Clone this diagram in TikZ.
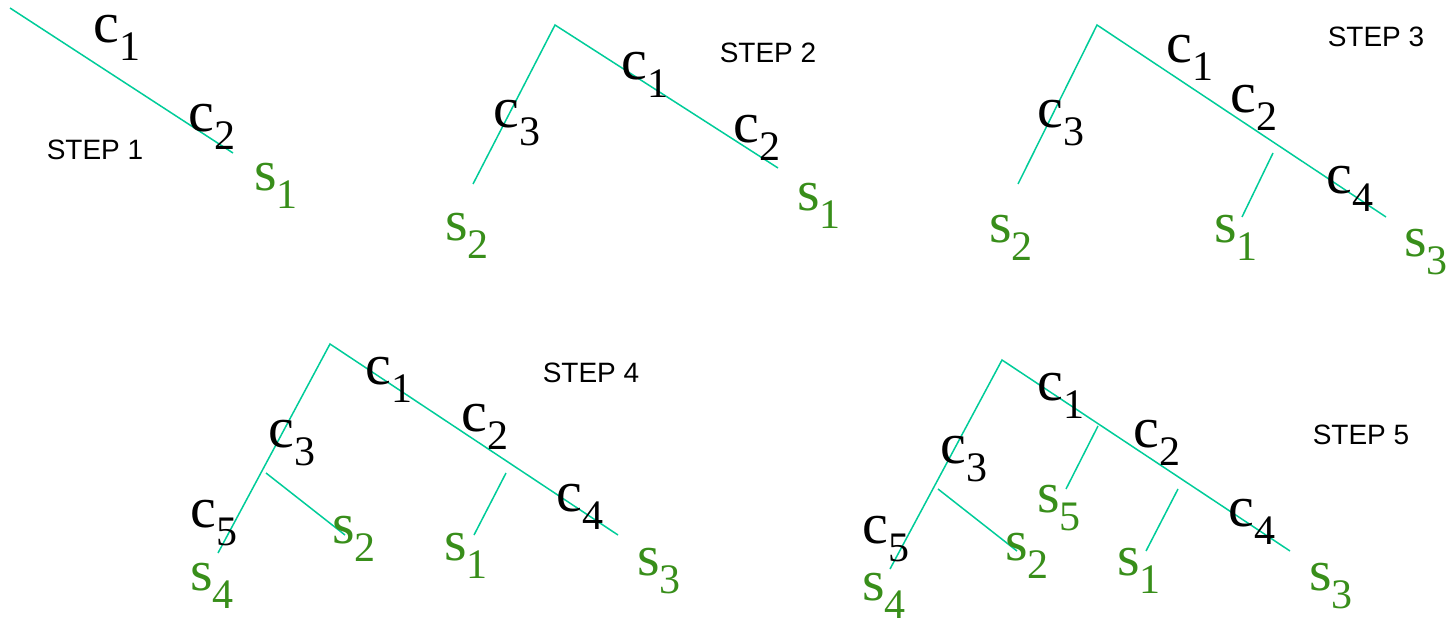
\documentclass[tikz,border=0pt]{standalone}
\usepackage{fontspec}
\setmainfont{Liberation Serif}
\newfontfamily\stepfont{Liberation Sans}
\definecolor{linecol}{RGB}{0,204,153}
\definecolor{scol}{RGB}{56,142,26}
\newcommand\lblsub[2]{#1\raisebox{-18pt}{\fontsize{42}{42}\selectfont #2}}
\begin{document}
\begin{tikzpicture}[x=1pt,y=-1pt,
  edge/.style={draw=linecol,line width=1.5pt},
  lblbase/.style={anchor=base west,inner sep=0pt,text height=28pt,text depth=19pt,font=\fontsize{58}{58}\selectfont},
  clbl/.style={lblbase,text=black},
  slbl/.style={lblbase,text=scol},
  steplbl/.style={inner sep=0pt,font=\stepfont\fontsize{28}{28}\selectfont}]
\useasboundingbox (0,0) rectangle (1450,621);
% ---------- STEP 1 ----------
\coordinate (a1) at (10,8);
\coordinate (a1e) at (233,153);
\draw[edge] (a1) -- (a1e);
\node[clbl] (s1c1) at (93.5,42.5) {\lblsub{c}{1}};
\node[clbl] (s1c2) at (188.5,131.5) {\lblsub{c}{2}};
\node[slbl] (s1s1) at (254,190) {\lblsub{s}{1}};
\node[steplbl] (st1) at (95,150) {STEP 1};
% ---------- STEP 2 ----------
\coordinate (b0) at (555,25);
\coordinate (bl) at (473,184);
\coordinate (br) at (778,168);
\draw[edge] (bl) -- (b0) -- (br);
\node[clbl] (s2c3) at (493.5,127.5) {\lblsub{c}{3}};
\node[clbl] (s2c1) at (621.5,79.5) {\lblsub{c}{1}};
\node[clbl] (s2c2) at (733.5,142.5) {\lblsub{c}{2}};
\node[slbl] (s2s2) at (445,240) {\lblsub{s}{2}};
\node[slbl] (s2s1) at (797,210) {\lblsub{s}{1}};
\node[steplbl] (st2) at (768,53) {STEP 2};
% ---------- STEP 3 ----------
\coordinate (c0) at (1097,25);
\coordinate (cl) at (1018,184);
\coordinate (cr) at (1386,217);
\coordinate (cbt) at (1273,153);
\coordinate (cbb) at (1242,217);
\draw[edge] (cl) -- (c0) -- (cr);
\draw[edge] (cbt) -- (cbb);
\node[clbl] (s3c3) at (1037.5,127.5) {\lblsub{c}{3}};
\node[clbl] (s3c1) at (1166.5,62) {\lblsub{c}{1}};
\node[clbl] (s3c2) at (1230.5,112) {\lblsub{c}{2}};
\node[clbl] (s3c4) at (1326.5,193) {\lblsub{c}{4}};
\node[slbl] (s3s2) at (989,242) {\lblsub{s}{2}};
\node[slbl] (s3s1) at (1214,242) {\lblsub{s}{1}};
\node[slbl] (s3s3) at (1404,256) {\lblsub{s}{3}};
\node[steplbl] (st3) at (1376,37) {STEP 3};
% ---------- STEP 4 ----------
\coordinate (d0) at (330,344);
\coordinate (dl) at (218,553);
\coordinate (dr) at (618,535);
\coordinate (d2t) at (266,473);
\coordinate (d2b) at (345,535);
\coordinate (d1t) at (506,473);
\coordinate (d1b) at (474,535);
\draw[edge] (dl) -- (d0) -- (dr);
\draw[edge] (d2t) -- (d2b);
\draw[edge] (d1t) -- (d1b);
\node[clbl] (s4c1) at (365.5,384) {\lblsub{c}{1}};
\node[clbl] (s4c3) at (268.5,447) {\lblsub{c}{3}};
\node[clbl] (s4c2) at (461.5,431) {\lblsub{c}{2}};
\node[clbl] (s4c4) at (556.5,511) {\lblsub{c}{4}};
\node[clbl] (s4c5) at (190.5,527) {\lblsub{c}{5}};
\node[slbl] (s4s2) at (332,543) {\lblsub{s}{2}};
\node[slbl] (s4s1) at (444,560) {\lblsub{s}{1}};
\node[slbl] (s4s4) at (190,590) {\lblsub{s}{4}};
\node[slbl] (s4s3) at (637,575) {\lblsub{s}{3}};
\node[steplbl] (st4) at (591,373) {STEP 4};
% ---------- STEP 5 ----------
\coordinate (e0) at (1002,360);
\coordinate (el) at (890,569);
\coordinate (er) at (1290,551);
\coordinate (e2t) at (938,489);
\coordinate (e2b) at (1017,551);
\coordinate (e1t) at (1178,489);
\coordinate (e1b) at (1146,551);
\coordinate (e5t) at (1098,426);
\coordinate (e5b) at (1066,489);
\draw[edge] (el) -- (e0) -- (er);
\draw[edge] (e2t) -- (e2b);
\draw[edge] (e1t) -- (e1b);
\draw[edge] (e5t) -- (e5b);
\node[clbl] (s5c1) at (1037.5,400) {\lblsub{c}{1}};
\node[clbl] (s5c3) at (940.5,463) {\lblsub{c}{3}};
\node[clbl] (s5c2) at (1133.5,447) {\lblsub{c}{2}};
\node[clbl] (s5c4) at (1228.5,526) {\lblsub{c}{4}};
\node[clbl] (s5c5) at (862.5,543) {\lblsub{c}{5}};
\node[slbl] (s5s5) at (1037,512) {\lblsub{s}{5}};
\node[slbl] (s5s2) at (1005,560) {\lblsub{s}{2}};
\node[slbl] (s5s1) at (1117,575) {\lblsub{s}{1}};
\node[slbl] (s5s4) at (862,600) {\lblsub{s}{4}};
\node[slbl] (s5s3) at (1309,590) {\lblsub{s}{3}};
\node[steplbl] (st5) at (1361,435) {STEP 5};
\end{tikzpicture}
\end{document}
